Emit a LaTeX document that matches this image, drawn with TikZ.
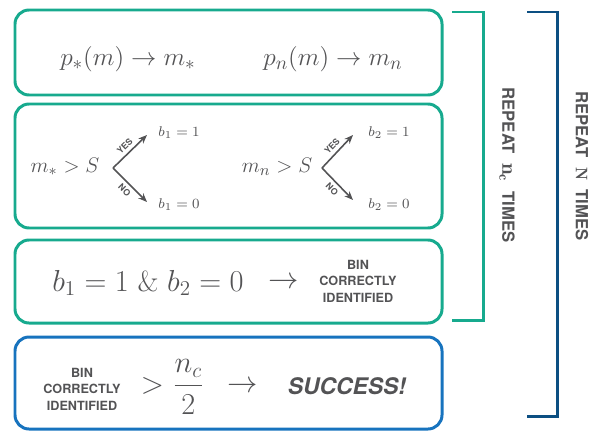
\documentclass[tikz,border=0pt]{standalone}
\usepackage{amsmath}
\usepackage{fontspec}
\setsansfont{TeX Gyre Heros}
\usepackage{xcolor}
\definecolor{tealbox}{HTML}{17AA8E}
\definecolor{bluebox}{HTML}{1773BE}
\definecolor{navyline}{HTML}{0C4F82}
\definecolor{inkgrey}{HTML}{535355}
\usetikzlibrary{
  arrows.meta,
  positioning
}

\begin{document}
\begin{tikzpicture}[
  stage/.style={rectangle, draw=tealbox, line width=1.7pt, rounded corners=8pt, minimum width=8.54cm},
  finalbox/.style={stage, draw=bluebox},
  eq/.style={text=inkgrey, inner sep=1pt, font=\fontsize{13}{15}\selectfont},
  topeq/.style={text=inkgrey, inner sep=1pt, font=\fontsize{15.5}{18}\selectfont},
  smalleq/.style={text=inkgrey, inner sep=1pt, font=\fontsize{8.5}{10}\selectfont},
  bigeq/.style={text=inkgrey, inner sep=1pt, font=\fontsize{16.5}{19}\selectfont},
  tag/.style={text=inkgrey, align=center, inner sep=1pt, font=\sffamily\bfseries\fontsize{7.2}{9.4}\selectfont},
  yesno/.style={text=inkgrey, inner sep=0.5pt, font=\sffamily\bfseries\fontsize{5}{6}\selectfont},
  looptext/.style={text=inkgrey, rotate=-90, inner sep=1pt, font=\sffamily\bfseries\fontsize{9.5}{11}\selectfont},
  arr/.style={-{Stealth[length=5pt, width=4pt]}, line width=0.9pt, inkgrey},
  bracket/.style={line width=1.7pt},
]
\useasboundingbox (0,0) rectangle (11.96,8.62);

% Boxes
\node[stage, minimum height=1.70cm] (sample) at (4.57,7.57) {};
\node[stage, minimum height=2.48cm] (compare) at (4.57,5.30) {};
\node[stage, minimum height=1.66cm] (check) at (4.57,2.99) {};
\node[finalbox, minimum height=1.84cm] (success) at (4.57,0.96) {};

% Sampling
\node[topeq] (pstar) at (2.56,7.44) {$p_\ast(m) \rightarrow m_\ast$};
\node[topeq] (pn) at (6.66,7.44) {$p_n(m) \rightarrow m_n$};

% Comparison with S
\node[eq] (cmpstar) at (1.30,5.28) {$m_\ast > S$};
\coordinate (fork1) at (2.26,5.26);
\coordinate (yes1) at (2.94,5.92);
\coordinate (no1) at (2.94,4.58);
\node[smalleq] (b1one) at (3.58,5.96) {$b_1 = 1$};
\node[smalleq] (b1zero) at (3.58,4.52) {$b_1 = 0$};

\node[eq] (cmpn) at (5.54,5.28) {$m_n > S$};
\coordinate (fork2) at (6.44,5.26);
\coordinate (yes2) at (7.06,5.92);
\coordinate (no2) at (7.06,4.62);
\node[smalleq] (b2one) at (7.78,5.96) {$b_2 = 1$};
\node[smalleq] (b2zero) at (7.78,4.52) {$b_2 = 0$};

\draw[arr] (fork1) -- node[sloped, above=1.5pt, yesno] {YES} (yes1);
\draw[arr] (fork1) -- node[sloped, below=1.5pt, yesno] {NO} (no1);
\draw[arr] (fork2) -- node[sloped, above=1.5pt, yesno] {YES} (yes2);
\draw[arr] (fork2) -- node[sloped, below=1.5pt, yesno] {NO} (no2);

% Identification
\node[bigeq] (bits) at (2.96,2.96) {$b_1 = 1 \ \&\ b_2 = 0$};
\node[bigeq] (toid) at (5.68,2.96) {$\rightarrow$};
\node[tag] (binid) at (7.16,3.00) {BIN\\CORRECTLY\\IDENTIFIED};

% Success criterion
\node[tag] (bincount) at (1.64,0.84) {BIN\\CORRECTLY\\IDENTIFIED};
\node[bigeq] (half) at (3.45,0.88) {$> \dfrac{n_c}{2}$};
\node[bigeq] (tosucc) at (4.86,0.88) {$\rightarrow$};
\node[text=inkgrey, inner sep=1pt, font=\sffamily\bfseries\itshape\fontsize{13}{15}\selectfont] (win) at (6.94,0.90) {SUCCESS!};

% Repeat brackets
\draw[bracket, tealbox] (9.04,8.38) -- (9.66,8.38) -- (9.66,2.22) -- (9.04,2.22);
\draw[bracket, navyline] (10.54,8.38) -- (11.14,8.38) -- (11.14,0.30) -- (10.54,0.30);
\node[looptext] (inner) at (10.14,5.32) {REPEAT\ \ {\fontsize{12}{12}\selectfont$\mathbf{n}_{\mathbf{c}}$}\ \ TIMES};
\node[looptext] (outer) at (11.64,5.30) {REPEAT\ \ $\mathbf{N}$\ \ TIMES};

\end{tikzpicture}
\end{document}
